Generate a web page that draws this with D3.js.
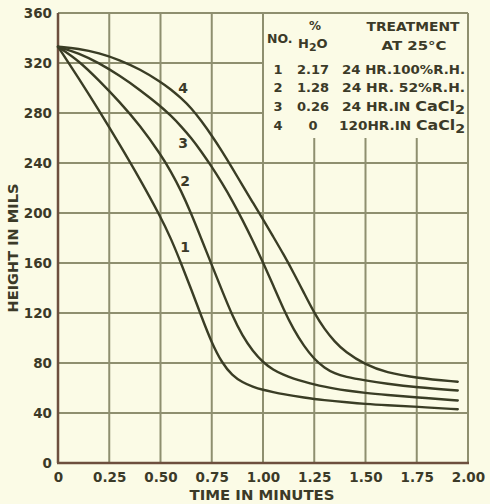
<!DOCTYPE html>
<html>
<head>
<meta charset="utf-8">
<script src="https://cdn.jsdelivr.net/npm/d3@7"></script>
<style>
  body { margin: 0; background: #fbfbe6; }
  svg text { font-family: "DejaVu Sans", sans-serif; font-weight: bold; fill: #3b3a28; }
</style>
</head>
<body>
<svg id="svg" width="490" height="504"></svg>
<script>
"use strict";

// time in minutes, shared by all four curves
const times = [0, 0.1, 0.2, 0.3, 0.4, 0.5, 0.55, 0.6, 0.65, 0.7, 0.75, 0.8, 0.85, 0.9,
               0.95, 1.0, 1.05, 1.1, 1.15, 1.2, 1.25, 1.3, 1.35, 1.4, 1.5, 1.6, 1.75, 1.95];

// height in mils
const curve1 = [333, 308, 282, 255, 227, 197, 180, 160, 139, 117, 96, 80, 70, 64.5,
                61, 58.5, 56.7, 55, 53.7, 52.4, 51.2, 50.3, 49.5, 48.7, 47.2, 46.2, 45, 43];
const curve2 = [333, 322, 306, 289, 270, 247, 233.5, 218, 199.5, 179, 158.5, 138, 118, 101.5,
                89.5, 80.5, 74.5, 70.5, 67.5, 65, 62.8, 61, 59.5, 58.2, 56, 54.5, 52.5, 50];
const curve3 = [333, 328, 320, 310, 298.5, 285.5, 278, 269.5, 260, 249, 237, 224, 210, 194.5,
                178, 160.5, 142, 123, 106.5, 93.5, 83, 76, 71.5, 69, 66, 63.5, 60.5, 58];
const curve4 = [333, 331.5, 328, 322.5, 315, 305, 299, 292, 284, 273.5, 262, 249.5, 236, 222,
                208.5, 195, 181, 167, 152, 136, 120, 107, 97, 89, 78.5, 72.5, 68, 65];

const curveNames = ["1", "2", "3", "4"];
// where the curve numbers sit, in data units
const labelT = [0.62, 0.62, 0.61, 0.61];
const labelV = [173, 226, 256, 300];

const xTicks = [0, 0.25, 0.5, 0.75, 1.0, 1.25, 1.5, 1.75, 2.0];
const xLabels = ["0", "0.25", "0.50", "0.75", "1.00", "1.25", "1.50", "1.75", "2.00"];
const yTicks = [0, 40, 80, 120, 160, 200, 240, 280, 320, 360];
const yLabels = ["0", "40", "80", "120", "160", "200", "240", "280", "320", "360"];

const legendWater = ["2.17", "1.28", "0.26", "0"];
const legendTreatment = ["24 HR.100%R.H.", "24 HR. 52%R.H.", "24 HR.IN CaCl2", "120HR.IN CaCl2"];

const gridColor = "#8e8f6f";
const axisColor = "#6d4f3e";
const lineColor = "#3a3d25";
const bg = "#fbfbe6";

var svg = d3.select("svg");
var margin = { top: 13, right: 22, bottom: 41, left: 58 };
var width = 490 - margin.left - margin.right;
var height = 504 - margin.top - margin.bottom;

var x = d3.scaleLinear().domain([0, 2]).range([margin.left, margin.left + width]);
var y = d3.scaleLinear().domain([0, 360]).range([margin.top + height, margin.top]);

svg.append("rect").attr("width", 490).attr("height", 504).attr("fill", bg);

// grid
var grid = svg.append("g").attr("stroke", gridColor).attr("stroke-width", 2);
grid.selectAll(".vgrid")
    .data(xTicks.filter(d => d > 0))
    .enter()
    .append("line")
        .attr("x1", d => x(d)).attr("x2", d => x(d))
        .attr("y1", y(0)).attr("y2", y(360));
grid.selectAll(".hgrid")
    .data(yTicks.filter(d => d > 0))
    .enter()
    .append("line")
        .attr("x1", x(0)).attr("x2", x(2))
        .attr("y1", d => y(d)).attr("y2", d => y(d));

// legend panel covers the grid in the upper right
var lx = x(1.0), ly = y(360);
svg.append("rect")
    .attr("x", lx + 1)
    .attr("y", ly + 1)
    .attr("width", x(2) - lx - 2)
    .attr("height", 138 - ly - 1)
    .attr("fill", bg);

// axes lines
svg.append("line")
    .attr("x1", x(0)).attr("x2", x(0)).attr("y1", y(0)).attr("y2", y(360))
    .attr("stroke", axisColor).attr("stroke-width", 2.5);
svg.append("line")
    .attr("x1", x(0) - 1).attr("x2", x(2) + 1).attr("y1", y(0)).attr("y2", y(0))
    .attr("stroke", axisColor).attr("stroke-width", 2.5);

// tick labels
svg.append("g")
    .attr("transform", "translate(0," + y(0) + ")")
    .call(d3.axisBottom(x).tickValues(xTicks).tickSize(0).tickPadding(9)
        .tickFormat((d, i) => xLabels[i]));
svg.append("g")
    .attr("transform", "translate(" + x(0) + ",0)")
    .call(d3.axisLeft(y).tickValues(yTicks).tickSize(0).tickPadding(6)
        .tickFormat((d, i) => yLabels[i]));
svg.selectAll(".domain").remove();
svg.selectAll(".tick text")
    .attr("font-family", null)
    .style("font-size", "13.5px");

svg.append("text")
    .attr("x", 262).attr("y", 500)
    .attr("text-anchor", "middle")
    .attr("textLength", 145).attr("lengthAdjust", "spacingAndGlyphs")
    .style("font-size", "13.5px")
    .text("TIME IN MINUTES");
svg.append("text")
    .attr("transform", "translate(18,248) rotate(-90)")
    .attr("text-anchor", "middle")
    .attr("textLength", 129).attr("lengthAdjust", "spacingAndGlyphs")
    .style("font-size", "13.5px")
    .text("HEIGHT IN MILS");

// curves
var line = d3.line()
    .x(d => x(d[0]))
    .y(d => y(d[1]))
    .curve(d3.curveBasis);

[curve1, curve2, curve3, curve4].forEach(function(values) {
    svg.append("path")
        .datum(times.map((t, i) => [t, values[i]]))
        .attr("d", line)
        .attr("fill", "none")
        .attr("stroke", lineColor)
        .attr("stroke-width", 2.4)
        .attr("stroke-linecap", "round");
});

svg.selectAll(".curve-label")
    .data(curveNames)
    .enter()
    .append("text")
        .attr("x", (d, i) => x(labelT[i]))
        .attr("y", (d, i) => y(labelV[i]))
        .attr("dy", "0.36em")
        .attr("text-anchor", "middle")
        .style("font-size", "14px")
        .text(d => d);

// legend table
var leg = svg.append("g");
leg.append("text").attr("x", lx + 4).attr("y", ly + 30)
    .style("font-size", "12.5px").text("NO.");
leg.append("text").attr("x", lx + 52).attr("y", ly + 17).attr("text-anchor", "middle")
    .style("font-size", "12px").text("%");
var h2o = leg.append("text").attr("x", lx + 35).attr("y", ly + 35).style("font-size", "13px");
h2o.append("tspan").text("H");
h2o.append("tspan").attr("dy", 3).style("font-size", "11px").text("2");
h2o.append("tspan").attr("dy", -3).text("O");
leg.append("text").attr("x", lx + 150).attr("y", ly + 18).attr("text-anchor", "middle")
    .attr("textLength", 93).attr("lengthAdjust", "spacingAndGlyphs")
    .style("font-size", "13px").text("TREATMENT");
leg.append("text").attr("x", lx + 151).attr("y", ly + 37).attr("text-anchor", "middle")
    .attr("textLength", 65).attr("lengthAdjust", "spacingAndGlyphs")
    .style("font-size", "13px").text("AT 25°C");

var rowY = [61, 79, 98, 117];
curveNames.forEach(function(name, i) {
    leg.append("text").attr("x", lx + 15).attr("y", ly + rowY[i])
        .attr("text-anchor", "middle").style("font-size", "13px").text(name);
    leg.append("text").attr("x", lx + 50).attr("y", ly + rowY[i])
        .attr("text-anchor", "middle").style("font-size", "13px").text(legendWater[i]);
    var txt = legendTreatment[i];
    var start = i === 3 ? lx + 76 : lx + 79;
    var t = leg.append("text").attr("x", start).attr("y", ly + rowY[i])
        .attr("textLength", lx + 202 - start).attr("lengthAdjust", "spacingAndGlyphs")
        .style("font-size", "12.5px");
    if (txt.endsWith("CaCl2")) {
        t.append("tspan").text(txt.slice(0, -5));
        t.append("tspan").style("font-size", "14.5px").text("CaCl");
        t.append("tspan").attr("dy", 3).style("font-size", "13px").text("2");
    } else {
        t.text(txt);
    }
});
</script>
</body>
</html>
